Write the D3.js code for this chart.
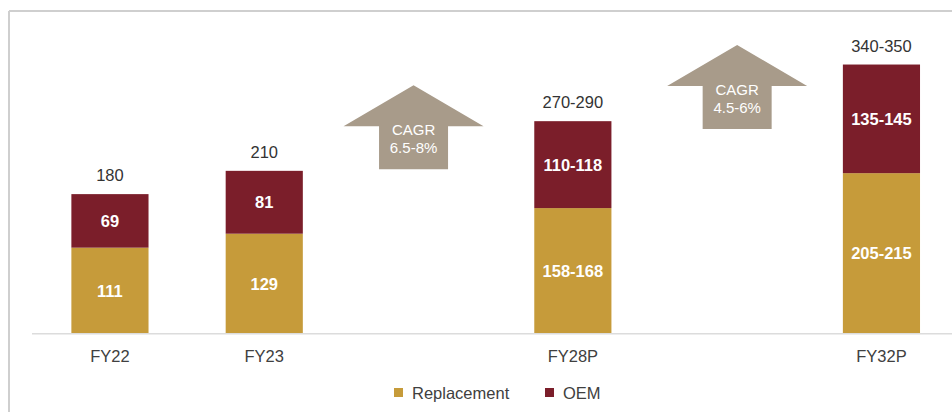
<!DOCTYPE html>
<html>
<head>
<meta charset="utf-8">
<script src="https://cdn.jsdelivr.net/npm/d3@7"></script>
<style>
  html, body { margin: 0; padding: 0; background: #fff; }
  svg { display: block; font-family: Arial, "Liberation Sans", sans-serif; }
</style>
</head>
<body>
<svg id="chart" width="952" height="412"></svg>
<script>
// ---- data ----
const slots = ["FY22", "FY23", "gapA", "FY28P", "gapB", "FY32P"];
const categories = ["FY22", "FY23", "FY28P", "FY32P"];
const replacement = [111, 129, 162, 207];
const oem = [69, 81, 112, 140];
const replacementLabels = ["111", "129", "158-168", "205-215"];
const oemLabels = ["69", "81", "110-118", "135-145"];
const totalLabels = ["180", "210", "270-290", "340-350"];
const cagrSlots = ["gapA", "gapB"];
const cagrLabels = ["6.5-8%", "4.5-6%"];
const cagrBaseValues = [212, 264];
const seriesNames = ["Replacement", "OEM"];

// ---- styles ----
const colors = { Replacement: "#C69B3A", OEM: "#7B1E2A" };
const arrowColor = "#A89B8A";

const svg = d3.select("#chart");
const W = 952, H = 412;

// frame
svg.append("line").attr("x1", 9).attr("x2", W).attr("y1", 11).attr("y2", 11)
  .attr("stroke", "#cfcfcf").attr("stroke-width", 2);
svg.append("line").attr("x1", 9).attr("x2", 9).attr("y1", 11).attr("y2", H)
  .attr("stroke", "#cfcfcf").attr("stroke-width", 2);

const x = d3.scaleBand().domain(slots).range([32.8, 32.8 + 154.3 * 6])
  .paddingInner(0.5).paddingOuter(0.25);
const y = d3.scaleLinear().domain([0, 350]).range([333.8, 333.8 - 350 * 0.776]);

const rows = categories.map((c, i) => ({
  cat: c, rep: replacement[i], oem: oem[i],
  repL: replacementLabels[i], oemL: oemLabels[i], totL: totalLabels[i]
}));
const stack = d3.stack().keys(["rep", "oem"])(rows);

const FS = 16.5;
const g = svg.append("g");
stack.forEach((layer, li) => {
  const key = seriesNames[li];
  g.selectAll(null).data(layer).enter().append("rect")
    .attr("x", d => x(d.data.cat))
    .attr("width", x.bandwidth())
    .attr("y", d => y(d[1]))
    .attr("height", d => y(d[0]) - y(d[1]))
    .attr("fill", colors[key]);
  g.selectAll(null).data(layer).enter().append("text")
    .attr("x", d => x(d.data.cat) + x.bandwidth() / 2)
    .attr("y", d => (y(d[0]) + y(d[1])) / 2)
    .attr("dy", "0.36em")
    .attr("text-anchor", "middle")
    .attr("fill", "#fff")
    .attr("font-weight", "bold")
    .attr("font-size", FS)
    .text(d => li === 0 ? d.data.repL : d.data.oemL);
});

// totals
g.selectAll(null).data(rows).enter().append("text")
  .attr("x", d => x(d.cat) + x.bandwidth() / 2)
  .attr("y", d => y(d.rep + d.oem) - 13)
  .attr("text-anchor", "middle")
  .attr("fill", "#333")
  .attr("font-size", FS)
  .text(d => d.totL);

// axis
const axis = d3.axisBottom(x).tickSize(0).tickPadding(16)
  .tickFormat(d => categories.includes(d) ? d : "");
const ax = svg.append("g").attr("transform", `translate(0,${y(0)})`).call(axis);
ax.select(".domain").attr("stroke", "#dcdcdc").attr("stroke-width", 1.5)
  .attr("d", `M32,0H${W}`);
ax.selectAll("text").attr("font-size", FS).attr("fill", "#404040")
  .attr("font-family", "Arial, 'Liberation Sans', sans-serif");

// CAGR arrows
const arrowOffsets = [-5, 10];
cagrSlots.forEach((s, i) => {
  const cx = x(s) + x.bandwidth() / 2 + arrowOffsets[i];
  const bottom = y(cagrBaseValues[i]);
  const headW = 140, shaftW = 69, shaftH = 43, headH = 41;
  const top = bottom - shaftH - headH;
  const p = d3.path();
  p.moveTo(cx, top);
  p.lineTo(cx + headW / 2, top + headH);
  p.lineTo(cx + shaftW / 2, top + headH);
  p.lineTo(cx + shaftW / 2, bottom);
  p.lineTo(cx - shaftW / 2, bottom);
  p.lineTo(cx - shaftW / 2, top + headH);
  p.lineTo(cx - headW / 2, top + headH);
  p.closePath();
  svg.append("path").attr("d", p.toString()).attr("fill", arrowColor);
  svg.append("text").attr("x", cx).attr("y", top + headH + 9)
    .attr("text-anchor", "middle").attr("fill", "#fff").attr("font-size", 15)
    .text("CAGR");
  svg.append("text").attr("x", cx).attr("y", top + headH + 27)
    .attr("text-anchor", "middle").attr("fill", "#fff").attr("font-size", 15)
    .text(cagrLabels[i]);
});

// legend
const legendItems = [{ name: "Replacement", x: 394 }, { name: "OEM", x: 545 }];
const lg = svg.append("g");
legendItems.forEach(it => {
  lg.append("rect").attr("x", it.x).attr("y", 388).attr("width", 9).attr("height", 9)
    .attr("fill", colors[it.name]);
  lg.append("text").attr("x", it.x + 18).attr("y", 393).attr("dy", "0.36em")
    .attr("font-size", FS).attr("fill", "#404040").text(it.name);
});
</script>
</body>
</html>
